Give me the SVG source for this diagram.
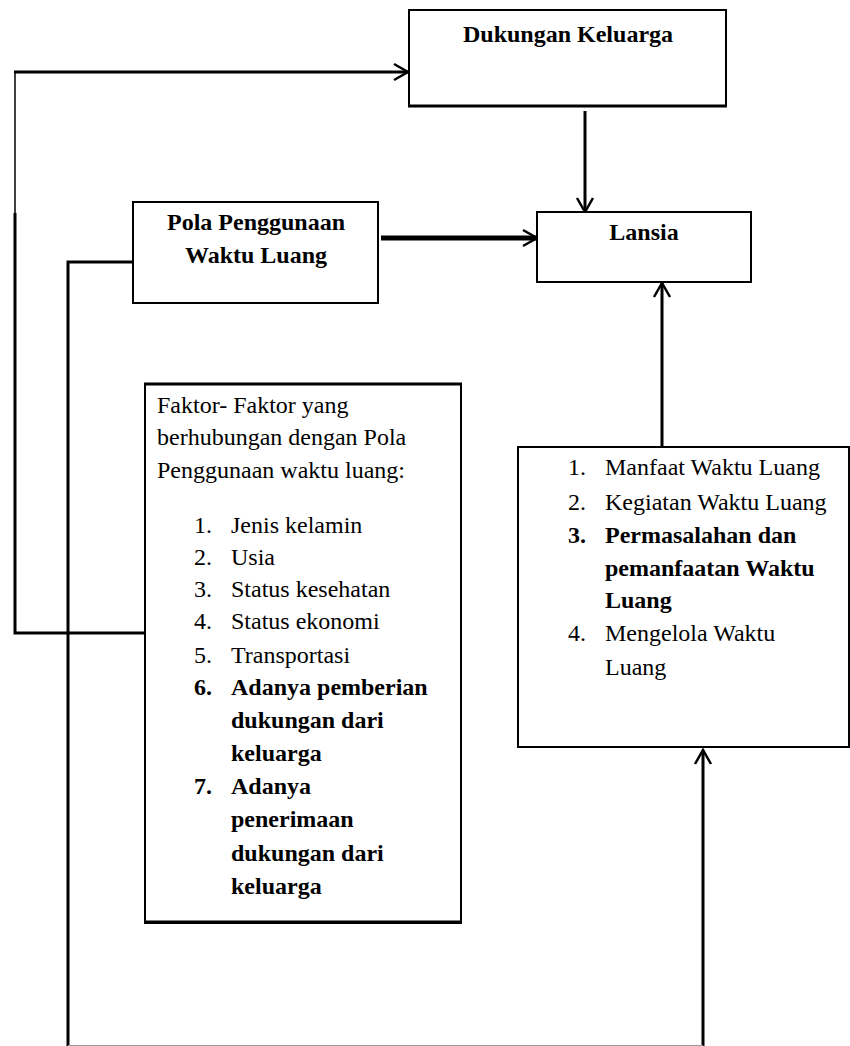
<svg xmlns="http://www.w3.org/2000/svg" width="850" height="1046" viewBox="0 0 850 1046">
<style>
.box{fill:#fff;stroke:#000;stroke-width:2}
.t{font-family:"Liberation Serif","Times New Roman",serif;font-size:24px;fill:#000}
.b{font-weight:bold}
.c{text-anchor:middle}
.ln{fill:none;stroke:#000;stroke-width:3}
</style>
<defs>
<marker id="ah" markerUnits="userSpaceOnUse" markerWidth="20" markerHeight="20" viewBox="0 0 20 20" refX="17" refY="10" orient="auto">
<path d="M3,2 L17,10 L3,18" fill="none" stroke="#000" stroke-width="2.5"/>
</marker>
</defs>
<rect width="850" height="1046" fill="#fff"/>
<g id="connectors">
<polyline class="ln" points="145,633 15,633 15,213"/>
<line x1="15" y1="213" x2="15" y2="72" stroke="#000" stroke-width="1.5"/>
<line class="ln" x1="14" y1="72" x2="408" y2="72" marker-end="url(#ah)"/>
<line class="ln" x1="585" y1="111" x2="585" y2="212" marker-end="url(#ah)"/>
<line x1="381" y1="238" x2="537" y2="238" stroke="#000" stroke-width="5" marker-end="url(#ah)"/>
<line class="ln" x1="662" y1="447" x2="662" y2="283" marker-end="url(#ah)"/>
<polyline class="ln" points="133,262 68,262 68,1046"/>
<line class="ln" x1="703" y1="1046" x2="703" y2="750" marker-end="url(#ah)"/>
<line x1="68" y1="1045.5" x2="703" y2="1045.5" stroke="#999" stroke-width="1"/>
</g>
<g id="dukungan">
<rect class="box" x="409" y="10" width="317" height="96"/>
<line x1="408" y1="106" x2="727" y2="106" stroke="#000" stroke-width="3"/>
<text class="t b c" x="568" y="42">Dukungan Keluarga</text>
</g>
<g id="lansia">
<rect class="box" x="537" y="212" width="214" height="70"/>
<text class="t b c" x="644" y="240">Lansia</text>
</g>
<g id="pola">
<rect class="box" x="133" y="202" width="245" height="101"/>
<text class="t b c" x="256" y="230">Pola Penggunaan</text>
<text class="t b c" x="256" y="263">Waktu Luang</text>
</g>
<g id="faktor">
<rect class="box" x="145" y="384" width="316" height="539"/>
<line x1="144" y1="384" x2="462" y2="384" stroke="#000" stroke-width="3"/>
<line x1="144" y1="922" x2="462" y2="922" stroke="#000" stroke-width="3"/>
<text class="t" x="157" y="413">Faktor- Faktor yang</text>
<text class="t" x="157" y="445">berhubungan dengan Pola</text>
<text class="t" x="157" y="478">Penggunaan waktu luang:</text>
<text class="t" x="194" y="533">1.</text><text class="t" x="231" y="533">Jenis kelamin</text>
<text class="t" x="194" y="565">2.</text><text class="t" x="231" y="565">Usia</text>
<text class="t" x="194" y="597">3.</text><text class="t" x="231" y="597">Status kesehatan</text>
<text class="t" x="194" y="629">4.</text><text class="t" x="231" y="629">Status ekonomi</text>
<text class="t" x="194" y="663">5.</text><text class="t" x="231" y="663">Transportasi</text>
<text class="t b" x="194" y="695">6.</text><text class="t b" x="231" y="695">Adanya pemberian</text>
<text class="t b" x="231" y="728">dukungan dari</text>
<text class="t b" x="231" y="761">keluarga</text>
<text class="t b" x="194" y="794">7.</text><text class="t b" x="231" y="794">Adanya</text>
<text class="t b" x="231" y="827">penerimaan</text>
<text class="t b" x="231" y="861">dukungan dari</text>
<text class="t b" x="231" y="894">keluarga</text>
</g>
<g id="waktu">
<rect class="box" x="518" y="447" width="331" height="300"/>
<text class="t" x="568" y="475">1.</text><text class="t" x="605" y="475">Manfaat Waktu Luang</text>
<text class="t" x="568" y="510">2.</text><text class="t" x="605" y="510">Kegiatan Waktu Luang</text>
<text class="t b" x="568" y="543">3.</text><text class="t b" x="605" y="543">Permasalahan dan</text>
<text class="t b" x="605" y="576">pemanfaatan Waktu</text>
<text class="t b" x="605" y="608">Luang</text>
<text class="t" x="568" y="641">4.</text><text class="t" x="605" y="641">Mengelola Waktu</text>
<text class="t" x="605" y="675">Luang</text>
</g>
</svg>
